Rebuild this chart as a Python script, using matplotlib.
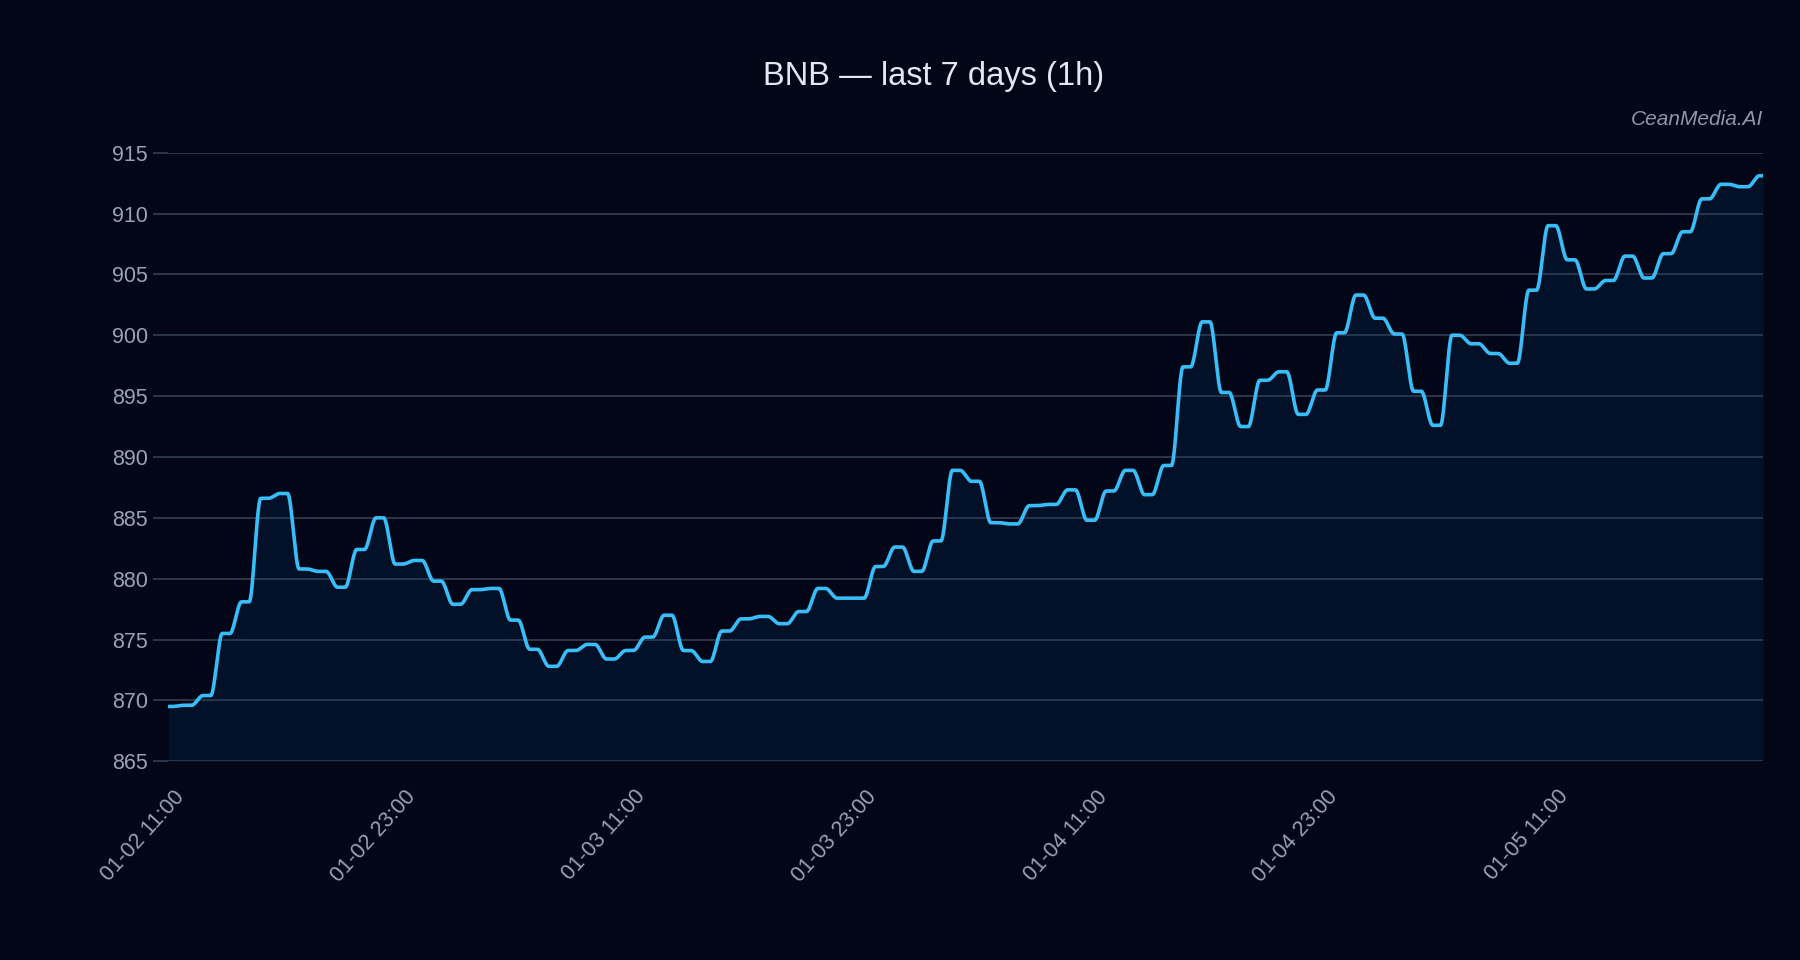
import numpy as np
import pandas as pd
import matplotlib
matplotlib.use('Agg')
from matplotlib import pyplot as plt
from matplotlib.transforms import ScaledTranslation

# hourly BNB closes
start = '2025-01-02 11:00'
prices = [869.5, 869.6, 870.4, 875.5, 878.1, 886.6, 887.0, 880.8, 880.6, 879.3,
          882.4, 885.0, 881.2, 881.5, 879.8, 877.9, 879.1, 879.2, 876.6, 874.2,
          872.8, 874.1, 874.6, 873.4, 874.1, 875.2, 877.0, 874.1, 873.2, 875.7,
          876.7, 876.9, 876.3, 877.3, 879.2, 878.4, 878.4, 881.0, 882.6, 880.6,
          883.1, 888.9, 888.0, 884.6, 884.5, 886.0, 886.1, 887.3, 884.8, 887.2,
          888.9, 886.9, 889.3, 897.4, 901.1, 895.3, 892.5, 896.3, 897.0, 893.5,
          895.5, 900.2, 903.3, 901.4, 900.1, 895.4, 892.6, 900.0, 899.3, 898.5,
          897.7, 903.7, 909.0, 906.2, 903.8, 904.5, 906.5, 904.7, 906.7, 908.5,
          911.2, 912.4, 912.2, 913.1]
times = pd.date_range(start, periods=len(prices), freq='h')
y_ticks = [865, 870, 875, 880, 885, 890, 895, 900, 905, 910, 915]
tick_every = 12

BG = '#020617'
LINE = '#38bdf8'
GRID = '#303b4d'
TXT = '#9aa3b3'

v = np.array(prices)
n = len(v)
hrs = np.arange(n)

# eased transition between consecutive hourly values (display smoothing only)
t = np.linspace(0, n - 1, 5000)
k = np.minimum(np.floor(t).astype(int), n - 2)
frac = t - k
s = np.clip((frac - 0.2) / 0.6, 0, 1)
ease = s * s * (3 - 2 * s)
ys = v[k] + (v[k + 1] - v[k]) * ease

plt.rcParams['font.family'] = ['Liberation Sans', 'DejaVu Sans']
fig = plt.figure(figsize=(18, 9.6), dpi=100, facecolor=BG)
ax = fig.add_axes([0.0936, 0.207, 0.886, 0.634], facecolor=BG)

ax.fill_between(t, ys, 865, color='#0b3a66', alpha=0.22, lw=0)
ax.plot(t, ys, color=LINE, lw=2.6, solid_capstyle='round')

ax.set_xlim(0, n - 1)
ax.set_ylim(865, 915)
ax.set_yticks(y_ticks)
for yv in y_ticks:
    ax.axhline(yv, color=GRID, lw=1.3, zorder=0)

tick_idx = hrs[::tick_every]
ax.set_xticks(tick_idx)
ax.set_xticklabels([times[i].strftime('%m-%d %H:%M') for i in tick_idx],
                   rotation=48, ha='right', rotation_mode='anchor')

for sp in ax.spines.values():
    sp.set_visible(False)
ax.tick_params(axis='y', colors=GRID, labelcolor=TXT, labelsize=15.5,
               length=11, width=1.3, pad=4)
ax.tick_params(axis='x', length=0, labelcolor=TXT, labelsize=15.5, pad=18)
shift = ScaledTranslation(0.05, 0, fig.dpi_scale_trans)
for lab in ax.get_xticklabels():
    lab.set_transform(lab.get_transform() + shift)

fig.text(0.5188, 0.920, 'BNB \u2014 last 7 days (1h)', ha='center', va='center',
         color='#e2e8f0', fontsize=23.5)
fig.text(0.9796, 0.8756, 'CeanMedia.AI', ha='right', va='center',
         color='#8e97a8', fontsize=15, style='italic')

fig.savefig('out.png', dpi=100, facecolor=BG)
